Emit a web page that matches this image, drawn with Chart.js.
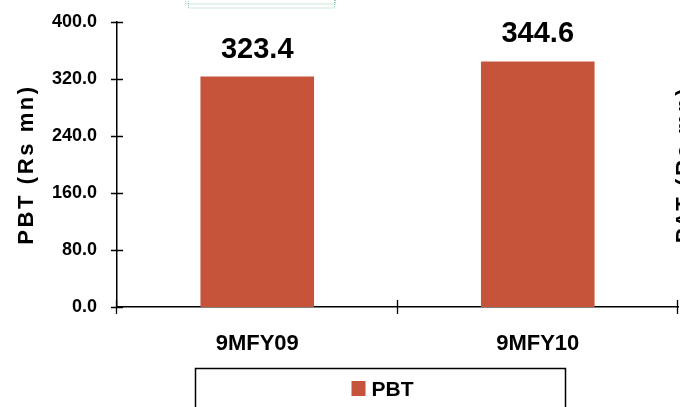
<!DOCTYPE html>
<html>
<head>
<meta charset="utf-8">
<script src="https://cdn.jsdelivr.net/npm/chart.js@4"></script>
<style>
  html, body { margin: 0; padding: 0; background: #fff; }
  #wrap { width: 680px; height: 407px; }
</style>
</head>
<body>
<div id="wrap"><canvas id="myChart"></canvas></div>
<script>
const categories = ["9MFY09", "9MFY10"];
const pbtValues = [323.4, 344.6];
const yTicks = [0, 80, 160, 240, 320, 400];
const barColor = "rgb(197, 84, 58)";

// axis ticks crossing both sides of the axis lines
const crossTicks = {
  id: "crossTicks",
  afterDraw(chart) {
    const { ctx } = chart;
    const x = chart.scales.x, y = chart.scales.y;
    ctx.save();
    ctx.strokeStyle = "#000";
    ctx.lineWidth = 1.3;
    ctx.beginPath();
    yTicks.forEach((v) => {
      const py = Math.round(y.getPixelForValue(v)) + 0.5;
      ctx.moveTo(x.left - 6, py);
      ctx.lineTo(x.left + 6, py);
    });
    for (let i = 0; i <= categories.length; i++) {
      const px = Math.round(x.getPixelForValue(i - 0.5)) - 0.5;
      ctx.moveTo(px, y.bottom - 7);
      ctx.lineTo(px, y.bottom + 7);
    }
    ctx.stroke();
    ctx.restore();
  },
};

// value labels above bars
const valueLabels = {
  id: "valueLabels",
  afterDatasetsDraw(chart) {
    const { ctx } = chart;
    ctx.save();
    ctx.font = "bold 29px 'Liberation Sans', Arial, sans-serif";
    ctx.fillStyle = "#000";
    ctx.textAlign = "center";
    ctx.textBaseline = "alphabetic";
    chart.getDatasetMeta(0).data.forEach((bar, i) => {
      ctx.fillText(pbtValues[i].toFixed(1), bar.x, bar.y - 19);
    });
    ctx.restore();
  },
};

// axis titles, legend box and the stray frame at the top
const extras = {
  id: "extras",
  afterDraw(chart) {
    const { ctx, chartArea } = chart;
    const midY = (chartArea.top + chartArea.bottom) / 2;
    ctx.save();
    ctx.fillStyle = "#000";
    ctx.font = "bold 22px 'Liberation Sans', Arial, sans-serif";
    ctx.letterSpacing = "2.6px";
    ctx.textAlign = "center";
    ctx.textBaseline = "middle";
    ctx.save();
    ctx.translate(27, midY);
    ctx.rotate(-Math.PI / 2);
    ctx.fillText("PBT (Rs mn)", 0, 0);
    ctx.restore();
    ctx.save();
    ctx.translate(685, midY);
    ctx.rotate(-Math.PI / 2);
    ctx.fillText("PAT (Rs mn)", 0, 0);
    ctx.restore();
    ctx.letterSpacing = "0px";

    // legend
    const bx = 195.5, by = 368.5, bw = 370, bh = 60;
    ctx.strokeStyle = "#000";
    ctx.lineWidth = 1.5;
    ctx.strokeRect(bx, by, bw, bh);
    const label = chart.data.datasets[0].label;
    ctx.font = "bold 21px 'Liberation Sans', Arial, sans-serif";
    const tw = ctx.measureText(label).width;
    const itemW = 14 + 6 + tw;
    const ix = bx + (bw - itemW) / 2 + 2;
    ctx.fillStyle = barColor;
    ctx.fillRect(ix, 381, 14, 15);
    ctx.fillStyle = "#000";
    ctx.textAlign = "left";
    ctx.textBaseline = "alphabetic";
    ctx.fillText(label, ix + 20, 396);

    // faint frame at top
    ctx.strokeStyle = "rgba(110, 185, 145, 0.7)";
    ctx.lineWidth = 1;
    ctx.setLineDash([1, 1]);
    ctx.strokeRect(185.5, -10, 150, 14);
    ctx.strokeRect(188.5, -10, 146, 18);
    ctx.restore();
  },
};

const ctx = document.getElementById("myChart").getContext("2d");
const myChart = new Chart(ctx, {
  type: "bar",
  data: {
    labels: categories,
    datasets: [
      {
        label: "PBT",
        data: pbtValues,
        backgroundColor: barColor,
        borderWidth: 0,
        categoryPercentage: 1,
        barPercentage: 0.405,
      },
    ],
  },
  options: {
    responsive: true,
    maintainAspectRatio: false,
    animation: false,
    layout: { padding: { top: 22, right: 2, left: 0, bottom: 0 } },
    plugins: {
      legend: { display: false },
      tooltip: { enabled: false },
    },
    scales: {
      x: {
        grid: { display: false, drawTicks: false },
        border: { display: true, color: "#000", width: 1.5 },
        ticks: {
          color: "#000",
          padding: 24,
          font: { family: "'Liberation Sans', Arial", size: 22, weight: "bold" },
        },
        afterFit(scale) { scale.height = 100; },
      },
      y: {
        min: 0,
        max: 400,
        afterBuildTicks(scale) { scale.ticks = yTicks.map((v) => ({ value: v })); },
        grid: { display: false, drawTicks: false },
        border: { display: true, color: "#000", width: 1.5 },
        ticks: {
          color: "#000",
          padding: 20,
          font: { family: "'Liberation Sans', Arial", size: 18, weight: "bold" },
          callback: (v) => v.toFixed(1),
        },
        afterFit(scale) {
          scale.width = 117;
          scale.paddingTop = 0;
          scale.paddingBottom = 0;
        },
      },
    },
  },
  plugins: [crossTicks, valueLabels, extras],
});
</script>
</body>
</html>
